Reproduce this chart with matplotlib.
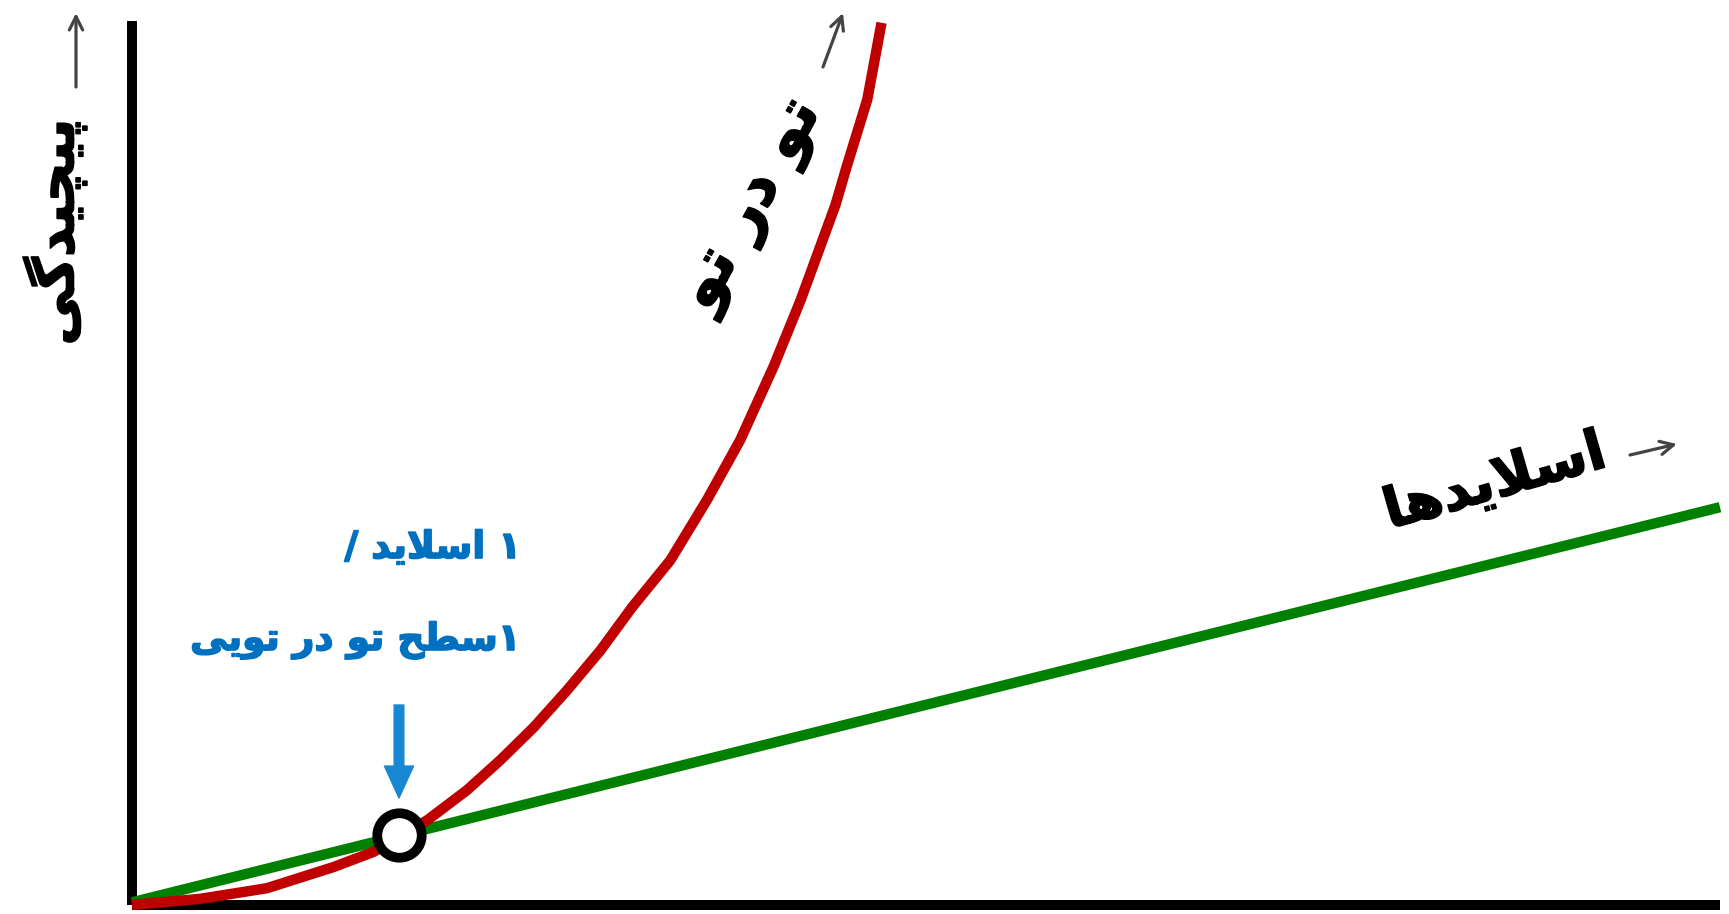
import numpy as np
import matplotlib
matplotlib.use("Agg")
import matplotlib.pyplot as plt
import matplotlib.patheffects as pe

W, H = 1729, 914

# curve data (x = number of slides / levels, y = complexity)
nested_x = [0.0, 0.43, 0.85, 1.27, 1.52, 1.86, 2.11, 2.32, 2.53, 2.74, 2.95, 3.15, 3.39,
            3.62, 3.83, 4.04, 4.21, 4.43, 4.50, 4.63, 4.72]
nested_y = [0.0, 0.07, 0.19, 0.43, 0.60, 0.96, 1.30, 1.64, 2.01, 2.43, 2.88, 3.37, 3.90,
            4.58, 5.26, 6.09, 6.84, 7.92, 8.35, 9.11, 9.98]
slides_x = [0.0, 10.0]
slides_y = [0.03, 4.5]
meet_x, meet_y = 1.68, 0.79

ylabel = "پیچیدگی"
nested_label = "تو در تو"
slides_label = "اسلایدها"
note_lines = ["۱ اسلاید /", "۱سطح تو در تویی"]

# matplotlib has no arabic shaping, so pick the presentation forms by hand
# (isolated, final, initial, medial)
FORMS = {
    'ا': ('\ufe8d', '\ufe8e', None, None),
    'د': ('\ufea9', '\ufeaa', None, None),
    'ر': ('\ufead', '\ufeae', None, None),
    'و': ('\ufeed', '\ufeee', None, None),
    'ت': ('\ufe95', '\ufe96', '\ufe97', '\ufe98'),
    'ح': ('\ufea1', '\ufea2', '\ufea3', '\ufea4'),
    'س': ('\ufeb1', '\ufeb2', '\ufeb3', '\ufeb4'),
    'ط': ('\ufec1', '\ufec2', '\ufec3', '\ufec4'),
    'ل': ('\ufedd', '\ufede', '\ufedf', '\ufee0'),
    'ه': ('\ufee9', '\ufeea', '\ufeeb', '\ufeec'),
    'پ': ('\ufb56', '\ufb57', '\ufb58', '\ufb59'),
    'چ': ('\ufb7a', '\ufb7b', '\ufb7c', '\ufb7d'),
    'گ': ('\ufb92', '\ufb93', '\ufb94', '\ufb95'),
    'ی': ('\ufbfc', '\ufbfd', '\ufbfe', '\ufbff'),
}


def shape(text):
    chars = list(text)
    out = []
    i = 0
    while i < len(chars):
        c = chars[i]
        if c not in FORMS:
            out.append(c)
            i += 1
            continue
        prev = chars[i-1] if i > 0 else None
        joins_prev = prev in FORMS and FORMS[prev][2] is not None
        # lam + alef ligature
        if c == 'ل' and i+1 < len(chars) and chars[i+1] == 'ا':
            out.append('\ufefc' if joins_prev else '\ufefb')
            i += 2
            continue
        nxt = chars[i+1] if i+1 < len(chars) else None
        iso, fin, ini, med = FORMS[c]
        joins_next = ini is not None and nxt in FORMS
        if joins_prev and joins_next:
            g = med
        elif joins_prev:
            g = fin
        elif joins_next:
            g = ini
        else:
            g = iso
        out.append(g)
        i += 1
    return ''.join(reversed(out))


plt.rcParams['font.family'] = ['DejaVu Sans']
fig = plt.figure(figsize=(W/100, H/100), dpi=100)

# axes box in pixels: left 132, right 1720, top 21, bottom 905
ax = fig.add_axes([132/W, (H-905)/H, (1720-132)/W, (905-21)/H])
ax.set_xlim(0, 10)
ax.set_ylim(0, 10)
for s in ['top', 'right']:
    ax.spines[s].set_visible(False)
for s in ['left', 'bottom']:
    ax.spines[s].set_linewidth(7.2)
    ax.spines[s].set_capstyle('butt')
ax.set_xticks([])
ax.set_yticks([])

ax.plot(slides_x, slides_y, color='#008000', lw=7.5, solid_capstyle='butt', clip_on=False, zorder=3)
ax.plot(nested_x, nested_y, color='#C00000', lw=7.5, solid_capstyle='butt', solid_joinstyle='round',
        clip_on=False, zorder=4)
ax.plot([meet_x], [meet_y], 'o', ms=32, mfc='white', mec='black', mew=7, clip_on=False, zorder=5)


def px(x, y):
    return (x/W, 1 - y/H)


def heavy(color):
    return [pe.withStroke(linewidth=1.2, foreground=color)]


# texts
fig.text(*px(55, 232), shape(ylabel), rotation=90, fontsize=40, fontweight='bold',
         ha='center', va='center', path_effects=heavy('black'))
fig.text(*px(752, 205), shape(nested_label), rotation=61, fontsize=44, fontweight='bold',
         ha='center', va='center', rotation_mode='anchor', path_effects=heavy('black'))
fig.text(*px(1495, 483), shape(slides_label), rotation=16, fontsize=40, fontweight='bold',
         ha='center', va='center', rotation_mode='anchor', path_effects=heavy('black'))
fig.text(*px(521, 548), shape(note_lines[0]), fontsize=27, fontweight='bold', color='#0070C0',
         ha='right', va='center', path_effects=heavy('#0070C0'))
fig.text(*px(521, 640), shape(note_lines[1]), fontsize=27, fontweight='bold', color='#0070C0',
         ha='right', va='center', path_effects=heavy('#0070C0'))

# small gray arrows next to the labels
gray_arrows = [((76, 87), (76, 13)), ((823, 67), (843, 13)), ((1630, 455), (1677, 444))]
for (x0, y0), (x1, y1) in gray_arrows:
    ax.annotate('', xy=(x1, H - y1), xytext=(x0, H - y0), xycoords='figure pixels',
                arrowprops=dict(arrowstyle='->', color='#444444', lw=2.3, mutation_scale=24,
                                shrinkA=0, shrinkB=0))

# blue arrow pointing at the crossing
ax.annotate('', xy=(399, H - 798), xytext=(399, H - 705), xycoords='figure pixels',
            arrowprops=dict(arrowstyle='simple,head_length=2.3,head_width=2.1,tail_width=0.7',
                            color='#1887D3', mutation_scale=10, shrinkA=0, shrinkB=0))

fig.savefig('out.png', dpi=100, facecolor='white')
